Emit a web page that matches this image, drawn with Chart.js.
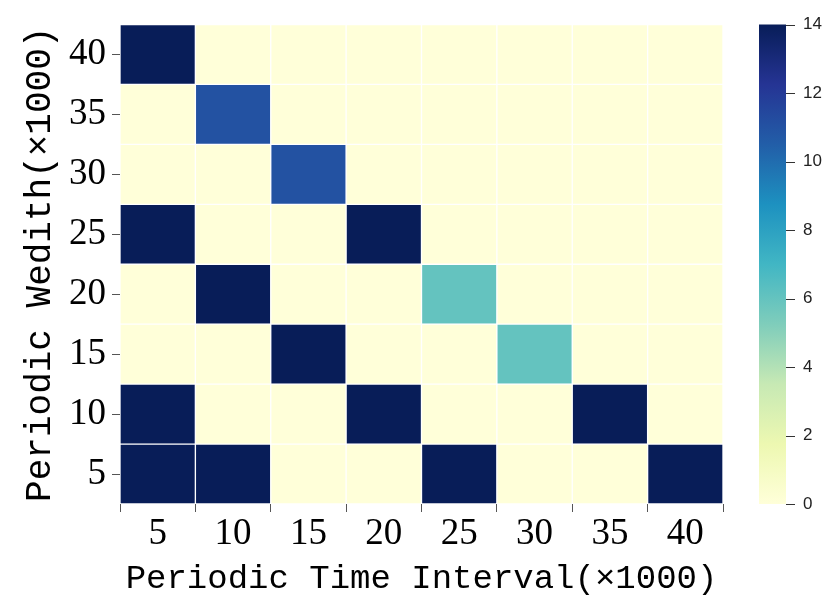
<!DOCTYPE html>
<html>
<head>
<meta charset="utf-8">
<script src="https://cdn.jsdelivr.net/npm/chart.js@4.4.0/dist/chart.umd.min.js"></script>
<style>
  html, body { margin: 0; padding: 0; background: #fff; }
  #wrap { width: 825px; height: 596px; }
</style>
</head>
<body>
<div id="wrap"><canvas id="c" width="825" height="596"></canvas></div>
<script>
// ---- data ----
const xLabels = ['5', '10', '15', '20', '25', '30', '35', '40'];
const yLabels = ['5', '10', '15', '20', '25', '30', '35', '40']; // bottom -> top
const row5  = [14, 14, 0, 0, 14, 0, 0, 14];
const row10 = [14, 0, 0, 14, 0, 0, 14, 0];
const row15 = [0, 0, 14, 0, 0, 6, 0, 0];
const row20 = [0, 14, 0, 0, 6, 0, 0, 0];
const row25 = [14, 0, 0, 14, 0, 0, 0, 0];
const row30 = [0, 0, 11, 0, 0, 0, 0, 0];
const row35 = [0, 11, 0, 0, 0, 0, 0, 0];
const row40 = [14, 0, 0, 0, 0, 0, 0, 0];
const rows = [row5, row10, row15, row20, row25, row30, row35, row40];
const colorbarTicks = [0, 2, 4, 6, 8, 10, 12, 14];
const vMin = 0, vMax = 14;
const xTitle = 'Periodic Time Interval(×1000)';
const yTitle = 'Periodic Wedith(×1000)';

// ---- YlGnBu colormap ----
const ylgnbu = ['#ffffd9', '#edf8b1', '#c7e9b4', '#7fcdbb', '#41b6c4', '#1d91c0', '#225ea8', '#253494', '#081d58'];
function hex2rgb(h) { return [1, 3, 5].map(i => parseInt(h.substr(i, 2), 16)); }
function colorFor(v) {
  let t = (v - vMin) / (vMax - vMin);
  t = Math.max(0, Math.min(1, t));
  const p = t * (ylgnbu.length - 1);
  const i = Math.min(Math.floor(p), ylgnbu.length - 2);
  const f = p - i;
  const a = hex2rgb(ylgnbu[i]), b = hex2rgb(ylgnbu[i + 1]);
  const c = a.map((x, k) => Math.round(x + (b[k] - x) * f));
  return `rgb(${c[0]},${c[1]},${c[2]})`;
}

const datasets = rows.map((r, ri) => ({
  label: yLabels[ri],
  data: r.map(() => 1),
  backgroundColor: r.map(colorFor),
  borderColor: 'rgba(255,255,255,0.95)',
  borderWidth: 1,
  borderSkipped: false,
  barPercentage: 1,
  categoryPercentage: 1,
  yAxisID: 'y'
}));

const W = 825, H = 596;
const AREA = { left: 120, right: 723, top: 22, bottom: 504 };

const colorbarPlugin = {
  id: 'colorbar',
  afterDraw(chart) {
    const s = chart.scales.cb;
    const ctx = chart.ctx;
    const x0 = 759, x1 = 786;
    const yTop = s.getPixelForValue(vMax), yBot = s.getPixelForValue(vMin);
    const g = ctx.createLinearGradient(0, yBot, 0, yTop);
    ylgnbu.forEach((c, i) => g.addColorStop(i / (ylgnbu.length - 1), c));
    ctx.save();
    ctx.fillStyle = g;
    ctx.fillRect(x0, yTop, x1 - x0, yBot - yTop);
    ctx.strokeStyle = '#333';
    ctx.lineWidth = 1;
    colorbarTicks.forEach(v => {
      const y = Math.round(s.getPixelForValue(v)) + 0.5;
      ctx.beginPath();
      ctx.moveTo(x1, y);
      ctx.lineTo(x1 + 9, y);
      ctx.stroke();
    });
    ctx.restore();
  }
};

new Chart(document.getElementById('c'), {
  type: 'bar',
  data: { labels: xLabels, datasets },
  plugins: [colorbarPlugin],
  options: {
    responsive: false,
    animation: false,
    layout: { padding: { top: AREA.top, left: 0, right: 0, bottom: 0 } },
    plugins: { legend: { display: false }, tooltip: { enabled: false } },
    scales: {
      x: {
        type: 'category',
        stacked: true,
        offset: true,
        grid: { drawOnChartArea: false, drawTicks: true, tickLength: 8, color: '#555' },
        border: { display: false },
        ticks: { color: '#000', padding: 4, font: { family: 'Liberation Serif', size: 37, lineHeight: 1.0 } },
        title: { display: true, text: xTitle, color: '#000', padding: { top: 0, bottom: 0 },
                 font: { family: 'Liberation Mono', size: 34, lineHeight: 1.0 } },
        afterFit(s) { s.height = H - AREA.bottom; }
      },
      y: {
        type: 'linear',
        stacked: true,
        min: 0,
        max: yLabels.length,
        afterBuildTicks(s) { s.ticks = yLabels.map((_, i) => ({ value: i + 0.5 })); },
        grid: { drawOnChartArea: false, drawTicks: true, tickLength: 8, color: '#555' },
        border: { display: false },
        ticks: { color: '#000', padding: 6, autoSkip: false,
                 font: { family: 'Liberation Serif', size: 37, lineHeight: 1.0 },
                 callback: (v, i) => yLabels[i] },
        title: { display: true, text: yTitle, color: '#000', padding: { top: 22, bottom: 0 },
                 font: { family: 'Liberation Mono', size: 36, lineHeight: 1.0 } },
        afterFit(s) { s.width = AREA.left; }
      },
      cb: {
        type: 'linear',
        position: 'right',
        min: vMin,
        max: vMax,
        afterBuildTicks(s) { s.ticks = colorbarTicks.map(v => ({ value: v })); },
        grid: { display: true, drawOnChartArea: false, drawTicks: true, tickLength: 77, color: 'rgba(0,0,0,0)' },
        border: { display: false },
        ticks: { color: '#222', padding: 3, font: { family: 'Liberation Sans', size: 17, lineHeight: 1.0 } },
        afterFit(s) { s.width = W - AREA.right; }
      }
    }
  }
});
</script>
</body>
</html>
